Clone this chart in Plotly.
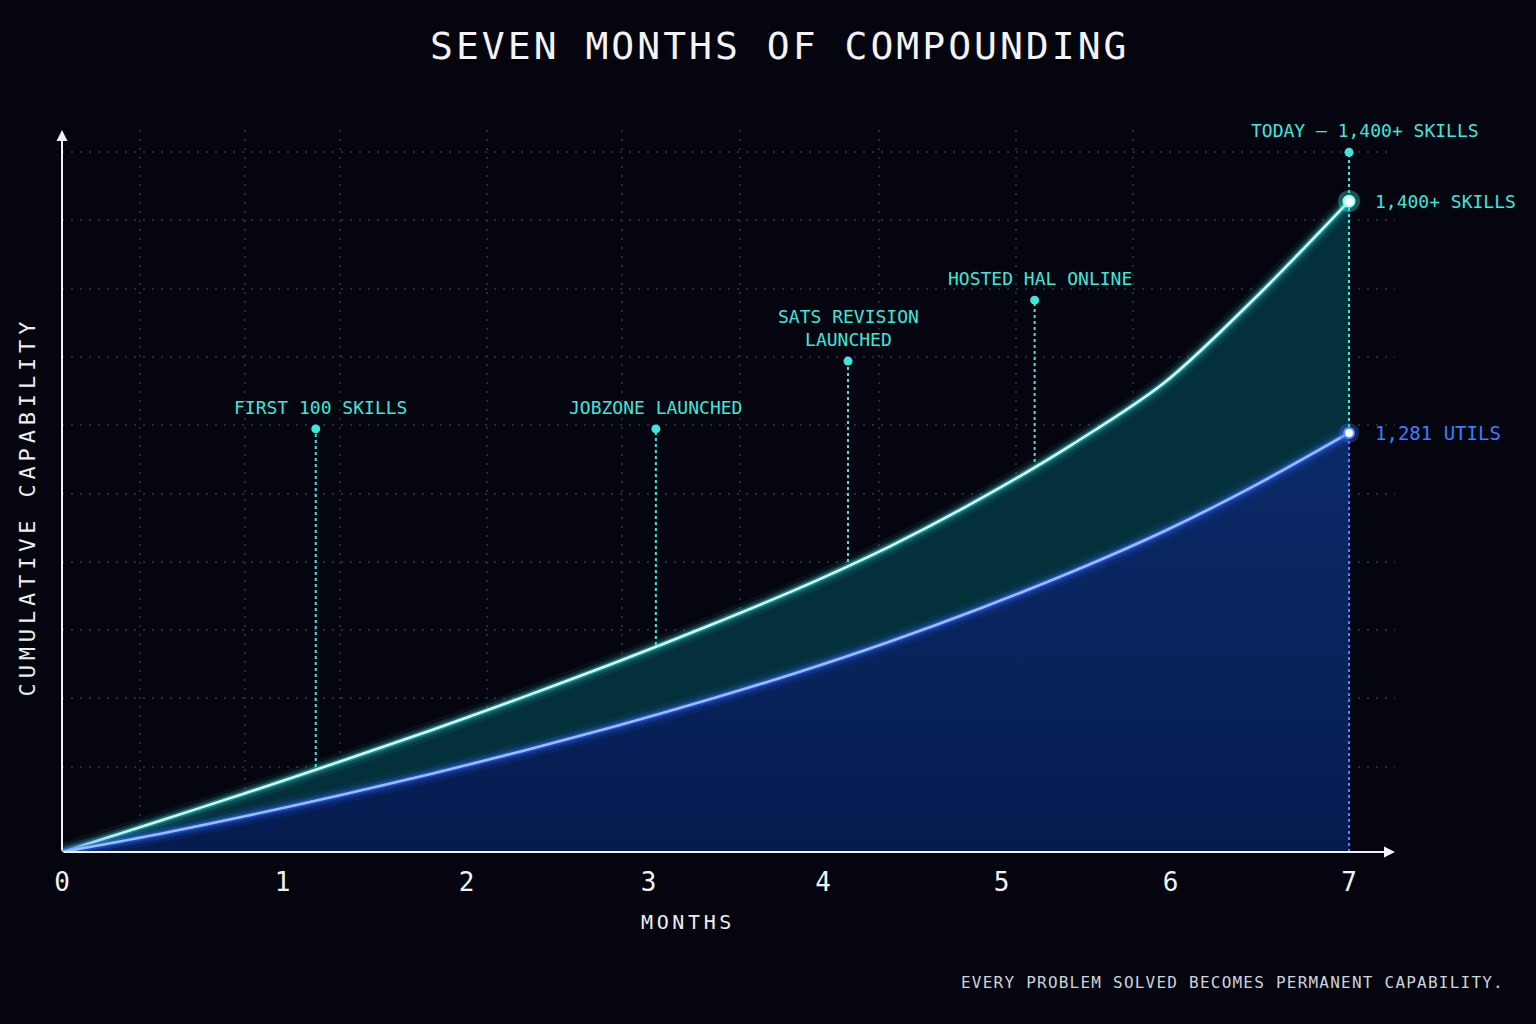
import plotly.graph_objects as go

# ---------------- data ----------------
MONTHS = [0, 0.5, 1.0, 1.5, 2.0, 2.5, 3.0, 3.5, 4.0, 4.5, 5.0, 5.5, 6.0, 6.5, 7.0]
SKILLS = [0, 63, 127, 193, 261, 332, 406, 484, 566, 657, 761, 878, 1011, 1196, 1400]
UTILS = [0, 52, 110, 172, 238, 308, 383, 463, 549, 643, 746, 858, 982, 1124, 1281]

MONTH_TICK_POS = [0, 1.2, 2.2, 3.19, 4.14, 5.11, 6.03, 7.0]
MONTH_TICK_LABELS = ["0", "1", "2", "3", "4", "5", "6", "7"]

EVENT_LABELS = ["FIRST 100 SKILLS", "JOBZONE LAUNCHED", "SATS REVISION<br>LAUNCHED",
                "HOSTED HAL ONLINE", "TODAY — 1,400+ SKILLS"]
EVENT_MONTHS = [1.38, 3.23, 4.275, 5.29, 7.0]
EVENT_SKILLS = [183, 445, 624, 839, 1400]

END_SKILLS_LABEL = "1,400+ SKILLS"
END_UTILS_LABEL = "1,281 UTILS"

TITLE = "SEVEN MONTHS OF COMPOUNDING"
X_TITLE = "MONTHS"
Y_TITLE = "CUMULATIVE CAPABILITY"
FOOTNOTE = "EVERY PROBLEM SOLVED BECOMES PERMANENT CAPABILITY."

# ---------------- style ----------------
BG = "#04050e"
CYAN = "#3fe6de"
CYAN_CORE = "#c8fffa"
BLUE = "#2f6bff"
BLUE_CORE = "#9dbcff"
TEAL_FILL = "#04303b"
GRID = "#262a3b"
FONT = "DejaVu Sans Mono"

X_MAX = 7.25
Y1_TOP = 1553          # skills axis top
Y2_TOP = 2207          # utils axis top
LABEL_LEVELS = [910, 910, 1056, 1187, 1505]
VGRID = [0.424, 0.995, 1.512, 2.312, 3.046, 3.688, 4.444, 5.189, 5.825]
HGRID = [36.4 + 146.9 * k for k in range(1, 11)]
SPL = dict(shape="spline", smoothing=0.9)


def spaced(s, gap):
    sp = '<span style="font-size:%dpx">\u00a0</span>' % gap
    return sp.join(list(s))


fig = go.Figure()

# dummy trace so the vertical-grid axis is drawn
fig.add_trace(go.Scatter(x=[None], y=[None], xaxis="x2", yaxis="y", mode="markers",
                         hoverinfo="skip", showlegend=False))

# teal area (skills)
fig.add_trace(go.Scatter(x=MONTHS, y=SKILLS, mode="lines", line=dict(width=0, **SPL),
                         fill="tozeroy", fillcolor=TEAL_FILL, hoverinfo="skip", showlegend=False))

# event stems
for m, s, lv in zip(EVENT_MONTHS[:-1], EVENT_SKILLS[:-1], LABEL_LEVELS[:-1]):
    fig.add_trace(go.Scatter(x=[m, m], y=[s, lv], mode="lines",
                             line=dict(color=CYAN, width=2, dash="dot"),
                             hoverinfo="skip", showlegend=False))
# today stem (cyan part, down to the utils endpoint)
util_end_on_y1 = UTILS[-1] * Y1_TOP / Y2_TOP
fig.add_trace(go.Scatter(x=[EVENT_MONTHS[-1]] * 2, y=[util_end_on_y1, LABEL_LEVELS[-1]], mode="lines",
                         line=dict(color=CYAN, width=2, dash="dot"), hoverinfo="skip", showlegend=False))
# event dots
fig.add_trace(go.Scatter(x=EVENT_MONTHS, y=LABEL_LEVELS, mode="markers",
                         marker=dict(color=CYAN, size=9), hoverinfo="skip", showlegend=False))

# skills line glow
for w, op in [(18, 0.06), (11, 0.14), (6, 0.35)]:
    fig.add_trace(go.Scatter(x=MONTHS, y=SKILLS, mode="lines",
                             line=dict(color=CYAN, width=w, **SPL),
                             opacity=op, hoverinfo="skip", showlegend=False))
fig.add_trace(go.Scatter(x=MONTHS, y=SKILLS, mode="lines",
                         line=dict(color=CYAN_CORE, width=2.6, **SPL),
                         hoverinfo="skip", showlegend=False))
# skills endpoint
fig.add_trace(go.Scatter(x=[MONTHS[-1]], y=[SKILLS[-1]], mode="markers",
                         marker=dict(color=CYAN, size=22, opacity=0.35), hoverinfo="skip", showlegend=False))
fig.add_trace(go.Scatter(x=[MONTHS[-1]], y=[SKILLS[-1]], mode="markers",
                         marker=dict(color="white", size=11, line=dict(color="#8ffff6", width=2)),
                         hoverinfo="skip", showlegend=False))

# utils area (y2)
fig.add_trace(go.Scatter(x=MONTHS, y=UTILS, yaxis="y2", mode="lines",
                         line=dict(width=0, **SPL),
                         fill="tozeroy",
                         fillgradient=dict(type="vertical", colorscale=[[0, "#061c50"], [1, "#0b2a68"]]),
                         hoverinfo="skip", showlegend=False))
fig.add_trace(go.Scatter(x=[MONTHS[-1]] * 2, y=[0, UTILS[-1]], yaxis="y2", mode="lines",
                         line=dict(color="#4f86ff", width=2, dash="dot"), hoverinfo="skip", showlegend=False))
for w, op in [(18, 0.08), (11, 0.18), (6, 0.45)]:
    fig.add_trace(go.Scatter(x=MONTHS, y=UTILS, yaxis="y2", mode="lines",
                             line=dict(color=BLUE, width=w, **SPL),
                             opacity=op, hoverinfo="skip", showlegend=False))
fig.add_trace(go.Scatter(x=MONTHS, y=UTILS, yaxis="y2", mode="lines",
                         line=dict(color=BLUE_CORE, width=2.6, **SPL),
                         hoverinfo="skip", showlegend=False))
fig.add_trace(go.Scatter(x=[MONTHS[-1]], y=[UTILS[-1]], yaxis="y2", mode="markers",
                         marker=dict(color=BLUE, size=20, opacity=0.35), hoverinfo="skip", showlegend=False))
fig.add_trace(go.Scatter(x=[MONTHS[-1]], y=[UTILS[-1]], yaxis="y2", mode="markers",
                         marker=dict(color="white", size=10, line=dict(color="#5a8dff", width=2)),
                         hoverinfo="skip", showlegend=False))

annotations = []
# event labels
xshifts = [5, 0, 0, 5, 16]
for m, lv, t, xs in zip(EVENT_MONTHS, LABEL_LEVELS, EVENT_LABELS, xshifts):
    annotations.append(dict(x=m, y=lv, xref="x", yref="y", text=t, showarrow=False,
                            yanchor="bottom", yshift=9, xshift=xs, align="center",
                            font=dict(family=FONT, size=18, color=CYAN)))
annotations.append(dict(x=MONTHS[-1], y=SKILLS[-1], xref="x", yref="y", text=END_SKILLS_LABEL,
                        showarrow=False, xanchor="left", xshift=24,
                        font=dict(family=FONT, size=18, color=CYAN)))
annotations.append(dict(x=MONTHS[-1], y=UTILS[-1], xref="x", yref="y2", text=END_UTILS_LABEL,
                        showarrow=False, xanchor="left", xshift=24,
                        font=dict(family=FONT, size=19, color="#3f7dff")))
# axis arrows
annotations.append(dict(x=X_MAX, y=0, ax=0, ay=0, xref="x", yref="y", axref="x", ayref="y",
                        text="", showarrow=True, arrowhead=2, arrowsize=1.1, arrowwidth=2, arrowcolor="#f2f2f2"))
annotations.append(dict(x=0, y=Y1_TOP, ax=0, ay=0, xref="x", yref="y", axref="x", ayref="y",
                        text="", showarrow=True, arrowhead=2, arrowsize=1.1, arrowwidth=2, arrowcolor="#f2f2f2"))
# titles
annotations.append(dict(x=0.537, y=1.116, xref="paper", yref="paper", text=spaced(TITLE, 5),
                        showarrow=False, xanchor="center", yanchor="middle",
                        font=dict(family=FONT, size=38, color="#f4f4f4")))
annotations.append(dict(x=0.468, y=-0.097, xref="paper", yref="paper", text=spaced(X_TITLE, 6),
                        showarrow=False, xanchor="center", yanchor="middle",
                        font=dict(family=FONT, size=20, color="#eeeeee")))
annotations.append(dict(x=-0.026, y=0.475, xref="paper", yref="paper", text=spaced(Y_TITLE, 8),
                        showarrow=False, xanchor="center", yanchor="middle", textangle=-90,
                        font=dict(family=FONT, size=22, color="#eeeeee")))
annotations.append(dict(x=1.0825, y=-0.181, xref="paper", yref="paper", text=spaced(FOOTNOTE, 2),
                        showarrow=False, xanchor="right", yanchor="middle",
                        font=dict(family=FONT, size=16, color="#cfd3db")))

fig.update_layout(
    width=1536, height=1024,
    margin=dict(l=62, r=141, t=130, b=172),
    paper_bgcolor=BG, plot_bgcolor=BG,
    showlegend=False,
    xaxis=dict(range=[0, X_MAX], tickvals=MONTH_TICK_POS, ticktext=MONTH_TICK_LABELS,
               showgrid=False, zeroline=False, showline=False, ticks="",
               ticklabelstandoff=12,
               tickfont=dict(family=FONT, size=26, color="#f2f2f2")),
    xaxis2=dict(range=[0, X_MAX], overlaying="x", anchor="y", side="bottom", tickvals=VGRID,
                showgrid=True, gridcolor=GRID, griddash="2px,7px", gridwidth=1.5,
                showticklabels=False, zeroline=False, showline=False, ticks=""),
    yaxis=dict(range=[0, Y1_TOP], tickvals=HGRID, showgrid=True, gridcolor=GRID,
               griddash="2px,7px", gridwidth=1.5, showticklabels=False, zeroline=False,
               showline=False, ticks=""),
    yaxis2=dict(range=[0, Y2_TOP], overlaying="y", showgrid=False, showticklabels=False,
                zeroline=False, showline=False, ticks=""),
    annotations=annotations,
)

fig.write_html("out.html", config={"displayModeBar": False},
               post_script="document.body.style.margin='0';document.body.style.background='%s';" % BG)
